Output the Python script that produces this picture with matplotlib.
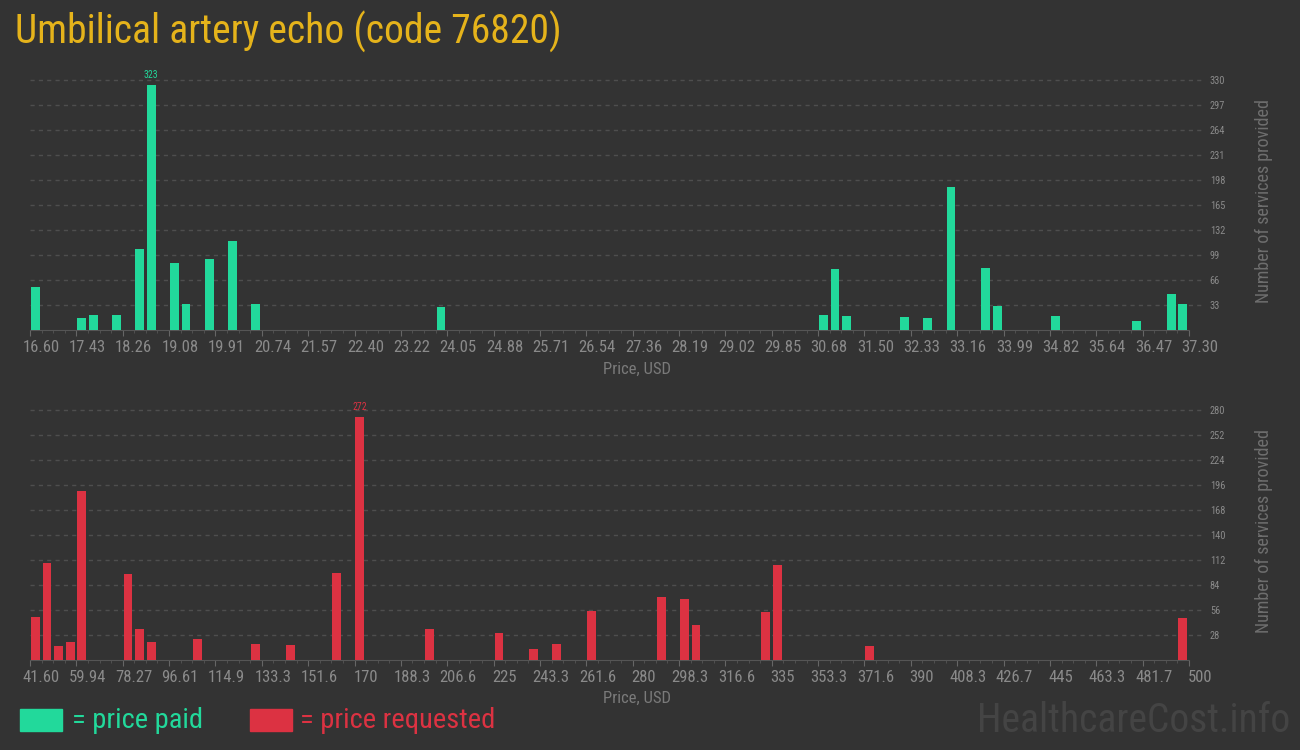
import numpy as np
import matplotlib
matplotlib.use("Agg")
import matplotlib.pyplot as plt
from matplotlib.patches import Rectangle
from matplotlib.transforms import ScaledTranslation

title = "Umbilical artery echo (code 76820)"

# price paid: bin start price -> number of services
paid_lo, paid_hi = 16.60, 37.30
paid_prices = [16.600, 17.428, 17.635, 18.049, 18.463, 18.670, 19.084, 19.291,
               19.705, 20.119, 20.533, 23.845, 30.676, 30.883, 31.090, 32.125,
               32.539, 32.953, 33.574, 33.781, 34.816, 36.265, 36.886, 37.093]
paid_counts = [57, 16, 20, 20, 107, 323, 88, 34,
               94, 117, 34, 30, 20, 80, 18, 17,
               16, 189, 82, 32, 18, 12, 47, 34]
paid_xlabels = ["16.60", "17.43", "18.26", "19.08", "19.91", "20.74", "21.57",
                "22.40", "23.22", "24.05", "24.88", "25.71", "26.54", "27.36",
                "28.19", "29.02", "29.85", "30.68", "31.50", "32.33", "33.16",
                "33.99", "34.82", "35.64", "36.47", "37.30"]
paid_yticks = [33, 66, 99, 132, 165, 198, 231, 264, 297, 330]

# price requested
req_lo, req_hi = 41.60, 500.0
req_prices = [41.60, 46.18, 50.77, 55.35, 59.94, 78.27, 82.86, 87.44, 105.78,
              128.70, 142.45, 160.78, 169.95, 197.46, 224.96, 238.71, 247.88,
              261.63, 289.14, 298.30, 302.89, 330.39, 334.98, 371.65, 495.42]
req_counts = [48, 109, 16, 20, 189, 96, 35, 20, 24,
              18, 17, 97, 272, 35, 30, 12, 18,
              55, 71, 68, 39, 54, 106, 16, 47]
req_xlabels = ["41.60", "59.94", "78.27", "96.61", "114.9", "133.3", "151.6",
               "170", "188.3", "206.6", "225", "243.3", "261.6", "280", "298.3",
               "316.6", "335", "353.3", "371.6", "390", "408.3", "426.7", "445",
               "463.3", "481.7", "500"]
req_yticks = [28, 56, 84, 112, 140, 168, 196, 224, 252, 280]

bg = "#333333"
green = "#22d99b"
red = "#dc3242"
gold = "#e5b31b"

plt.rcParams['font.family'] = ['Roboto Condensed', 'DejaVu Sans']

fig = plt.figure(figsize=(13, 7.5), dpi=100, facecolor=bg)


def draw_panel(rect, lo, hi, prices, counts, color, xlabels, yticks):
    ax = fig.add_axes(rect)
    ax.set_facecolor(bg)
    binw = (hi - lo) / 100
    ax.bar(np.array(prices) + binw * 0.08, counts, width=binw * 0.76,
           align='edge', color=color, zorder=3)
    ax.set_xlim(lo, hi)
    ax.set_ylim(0, yticks[-1])
    for y in yticks:
        ax.axhline(y, xmin=0, xmax=1.012, color="#4e4e4e", lw=1,
                   ls=(0, (3, 3)), clip_on=False, zorder=1)
    ax.set_xticks(np.linspace(lo, hi, len(xlabels)))
    ax.set_xticklabels(xlabels)
    ax.set_xticks(np.linspace(lo, hi, 101), minor=True)
    ax.tick_params(axis='x', which='major', length=4, color="#666666",
                   labelsize=12, labelcolor="#8a8a8a", pad=3)
    ax.tick_params(axis='x', which='minor', length=2, color="#555555")
    # labels sit a little to the right of their tick, as in the original
    offset = ScaledTranslation(11 / 100, 0, fig.dpi_scale_trans)
    for lab in ax.get_xticklabels():
        lab.set_transform(lab.get_transform() + offset)
    ax.yaxis.tick_right()
    ax.set_yticks(yticks)
    ax.tick_params(axis='y', length=0, pad=15, labelsize=7.5, labelcolor="#8a8a8a")
    for s in ["top", "left", "right"]:
        ax.spines[s].set_visible(False)
    ax.spines["bottom"].set_color("#555555")
    i = int(np.argmax(counts))
    ax.annotate(str(counts[i]), (prices[i] + binw * 0.46, counts[i]),
                xytext=(0, 4), textcoords="offset points", ha="center",
                va="bottom", fontsize=7, color=color, annotation_clip=False)
    return ax


ax1 = draw_panel([30 / 1300, 1 - 330 / 750, 1159 / 1300, 250 / 750],
                 paid_lo, paid_hi, paid_prices, paid_counts, green, paid_xlabels, paid_yticks)
ax2 = draw_panel([30 / 1300, 1 - 660 / 750, 1159 / 1300, 250 / 750],
                 req_lo, req_hi, req_prices, req_counts, red, req_xlabels, req_yticks)

fig.text(637 / 1300, 1 - 369 / 750, "Price, USD", ha="center", va="center",
         fontsize=12, color="#7a7a7a")
fig.text(637 / 1300, 1 - 698 / 750, "Price, USD", ha="center", va="center",
         fontsize=12, color="#7a7a7a")
for yc in [201, 531]:
    fig.text(1264 / 1300, 1 - yc / 750, "Number of services provided", rotation=90,
             ha="center", va="center", fontsize=13, color="#6e6e6e")

fig.text(15 / 1300, 1 - 32 / 750, title, ha="left", va="center", fontsize=28.5, color=gold)

fig.patches.append(Rectangle((20 / 1300, 1 - 731 / 750), 42 / 1300, 22 / 750,
                             transform=fig.transFigure, color=green))
fig.text(72 / 1300, 1 - 720 / 750, "= price paid", ha="left", va="center",
         fontsize=20.5, color=green)
fig.patches.append(Rectangle((250 / 1300, 1 - 731 / 750), 42 / 1300, 22 / 750,
                             transform=fig.transFigure, color=red))
fig.text(300 / 1300, 1 - 720 / 750, "= price requested", ha="left", va="center",
         fontsize=20.5, color=red)
fig.text(1290 / 1300, 1 - 720 / 750, "HealthcareCost.info", ha="right", va="center",
         fontsize=28.5, color="#444444")

fig.savefig("out.png", dpi=100, facecolor=bg)
